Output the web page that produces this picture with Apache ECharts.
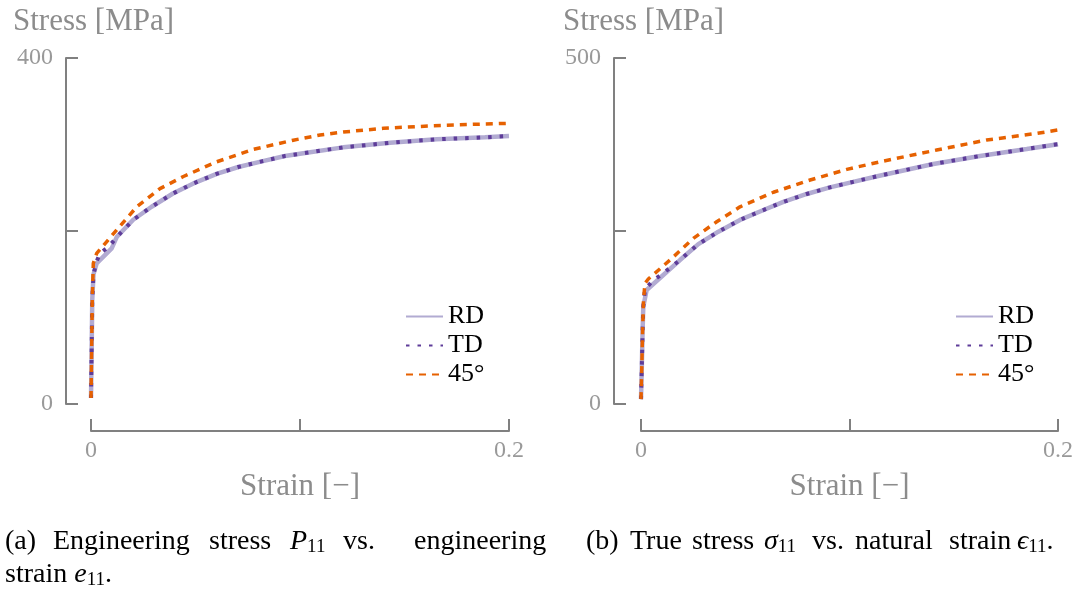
<!DOCTYPE html>
<html>
<head>
<meta charset="utf-8">
<script src="https://cdn.jsdelivr.net/npm/echarts@6/dist/echarts.min.js"></script>
<style>
  html, body { margin: 0; padding: 0; background: #fff; }
  #chart-container { width: 1081px; height: 590px; }
</style>
</head>
<body>
<div id="chart-container"></div>
<script>
// (a) engineering stress vs engineering strain
var engRdStrain = [0, 0.0003, 0.0006, 0.0012, 0.0027, 0.0099, 0.0123, 0.0202, 0.029, 0.0394, 0.049, 0.0601, 0.0705, 0.0817, 0.0928, 0.1032, 0.1207, 0.1431, 0.1654, 0.1885, 0.2];
var engRdStress = [7, 60, 120, 150, 162.6, 180, 193, 213, 228, 243.6, 255, 266, 274, 280.5, 286.7, 290.5, 296.7, 302, 306, 308.3, 309.8];
var engTdStrain = [0, 0.0003, 0.0006, 0.0012, 0.0027, 0.0043, 0.0088, 0.0123, 0.0202, 0.029, 0.0394, 0.049, 0.0601, 0.0705, 0.0817, 0.0928, 0.1032, 0.1207, 0.1431, 0.1654, 0.1885, 0.2];
var engTdStress = [7, 60, 120, 150, 165, 174, 182.6, 193, 213, 228, 243.6, 255, 266, 274, 280.5, 286.7, 290.5, 296.7, 302, 306, 308.3, 309.8];
var eng45Strain = [0, 0.0003, 0.0006, 0.0011, 0.0027, 0.0115, 0.0219, 0.033, 0.0442, 0.0601, 0.0777, 0.0968, 0.1096, 0.1207, 0.1399, 0.1638, 0.1829, 0.2];
var eng45Stress = [7, 60, 120, 162.6, 174, 199, 228, 249, 263, 280, 294.4, 305, 311, 314.4, 318.7, 321.7, 323.3, 324.5];

// (b) true stress vs natural strain
var trueRdStrain = [0, 0.0004, 0.0008, 0.0011, 0.0027, 0.0107, 0.0187, 0.0275, 0.0371, 0.0475, 0.0579, 0.0683, 0.0795, 0.0906, 0.1018, 0.1138, 0.1402, 0.1626, 0.185, 0.2];
var trueRdStress = [7, 55, 110, 140.6, 164.7, 186.4, 208, 231, 249, 266, 279.3, 292, 303.5, 313, 321, 329.5, 346.8, 358.4, 368.5, 375.5];
var trueTdStrain = [0, 0.0004, 0.0008, 0.0011, 0.0019, 0.0056, 0.0102, 0.0187, 0.0275, 0.0371, 0.0475, 0.0579, 0.0683, 0.0795, 0.0906, 0.1018, 0.1138, 0.1402, 0.1626, 0.185, 0.2];
var trueTdStress = [7, 55, 110, 140.6, 165.7, 178, 188, 208, 231, 249, 266, 279.3, 292, 303.5, 313, 321, 329.5, 346.8, 358.4, 368.5, 375.5];
var true45Strain = [0, 0.0004, 0.0008, 0.0012, 0.0019, 0.0035, 0.0139, 0.0251, 0.0363, 0.0475, 0.0635, 0.0811, 0.0987, 0.1146, 0.1418, 0.1658, 0.1898, 0.2];
var true45Stress = [7, 55, 110, 150, 174.4, 180.6, 208, 239.4, 263.4, 285, 306, 323.7, 339, 350, 367, 381.5, 391, 396];

var seriesNames = ['RD', 'TD', '45°'];
var xTicks = [0, 0.2];            // labelled strain ticks
var yMaxA = 400, yMaxB = 500;      // stress axis limits

var FONT = "'Liberation Serif', 'DejaVu Serif', serif";
var GREY_LINE = '#808080';
var GREY_TEXT = '#999999';
var colors = ['#b2abd2', '#5e3c99', '#e66101'];

function pairs(xs, ys) {
  return xs.map(function (x, i) { return [x, ys[i]]; });
}

function xAxisFor(gridIndex) {
  return {
    type: 'value', gridIndex: gridIndex, min: 0, max: 0.2, interval: 0.1,
    offset: 27,
    name: 'Strain [\u2212]', nameLocation: 'middle', nameGap: 40,
    nameTextStyle: { fontFamily: FONT, fontSize: 31, color: '#8c8c8c' },
    axisLine: { onZero: false, lineStyle: { color: GREY_LINE, width: 2 } },
    axisTick: { inside: true, length: 12, lineStyle: { color: GREY_LINE, width: 2 } },
    axisLabel: {
      margin: 8, fontFamily: FONT, fontSize: 24, color: GREY_TEXT,
      formatter: function (v) {
        for (var i = 0; i < xTicks.length; i++) {
          if (Math.abs(v - xTicks[i]) < 1e-9) return String(xTicks[i]);
        }
        return '';
      }
    },
    splitLine: { show: false }
  };
}

function yAxisFor(gridIndex, max, offset) {
  return {
    type: 'value', gridIndex: gridIndex, min: 0, max: max, interval: max / 2,
    offset: offset,
    axisLine: { show: true, onZero: false, lineStyle: { color: GREY_LINE, width: 2 } },
    axisTick: { show: true, inside: true, length: 12, lineStyle: { color: GREY_LINE, width: 2 } },
    axisLabel: {
      margin: 13, fontFamily: FONT, fontSize: 24, color: GREY_TEXT,
      formatter: function (v) { return (v === 0 || v === max) ? String(v) : ''; }
    },
    splitLine: { show: false }
  };
}

function lineSeries(name, idx, data, gridIndex) {
  var styles = [
    { color: colors[0], width: 4.5, type: 'solid' },
    { color: colors[1], width: 4, type: [3.5, 8] },
    { color: colors[2], width: 3.5, type: [7, 6] }
  ];
  return {
    name: name, type: 'line', xAxisIndex: gridIndex, yAxisIndex: gridIndex,
    data: data, showSymbol: false, symbol: 'none', smooth: false,
    color: colors[idx], lineStyle: styles[idx], z: 2 + idx, animation: false
  };
}

function legendFor(left) {
  return {
    left: left, top: 302, orient: 'vertical', padding: 0, itemGap: 0,
    itemWidth: 37, itemHeight: 14, data: seriesNames,
    itemStyle: { opacity: 0 },
    textStyle: { fontFamily: FONT, fontSize: 26, color: '#000', lineHeight: 29 }
  };
}

var rich = {
  i: { fontFamily: FONT, fontSize: 28, fontStyle: 'italic', color: '#000' },
  sub: { fontFamily: FONT, fontSize: 19, color: '#000', padding: [10, 0, 0, 0] },
  n: { fontFamily: FONT, fontSize: 28, color: '#000' }
};
// caption words with their left edges (justified LaTeX subcaptions)
var captionA1 = [
  ['(a)', 5], ['Engineering', 53], ['stress', 209], ['{i|P}{sub|11}', 290], ['vs.', 343], ['engineering', 414]
];
var captionA2 = [['{n|strain }{i|e}{sub|11}{n|.}', 5]];
var captionB = [
  ['(b)', 586], ['True', 630], ['stress', 692], ['{i|\u03c3}{sub|11}', 764], ['vs.', 812],
  ['natural', 855], ['strain', 949], ['{i|\u03f5}{sub|11}{n|.}', 1017]
];

function captionLine(words, top) {
  return words.map(function (w) {
    return {
      type: 'text', left: w[1], top: top,
      style: { text: w[0], font: '28px ' + FONT, fill: '#000', rich: rich }
    };
  });
}
var graphics = [].concat(captionLine(captionA1, 528), captionLine(captionA2, 561), captionLine(captionB, 528));

var dom = document.getElementById('chart-container');
var myChart = echarts.init(dom, null, { renderer: 'canvas' });

var option = {
  animation: false,
  backgroundColor: '#fff',
  title: [
    { text: 'Stress [MPa]', left: 13, top: 6, padding: 0,
      textStyle: { fontFamily: FONT, fontSize: 31, fontWeight: 'normal', color: '#8c8c8c' } },
    { text: 'Stress [MPa]', left: 563, top: 6, padding: 0,
      textStyle: { fontFamily: FONT, fontSize: 31, fontWeight: 'normal', color: '#8c8c8c' } }
  ],
  grid: [
    { left: 91, top: 58, width: 418, height: 346 },
    { left: 641, top: 58, width: 417, height: 346 }
  ],
  xAxis: [xAxisFor(0), xAxisFor(1)],
  yAxis: [yAxisFor(0, yMaxA, 25), yAxisFor(1, yMaxB, 27)],
  legend: [legendFor(405), legendFor(955)],
  graphic: graphics,
  series: [
    lineSeries('RD', 0, pairs(engRdStrain, engRdStress), 0),
    lineSeries('TD', 1, pairs(engTdStrain, engTdStress), 0),
    lineSeries('45°', 2, pairs(eng45Strain, eng45Stress), 0),
    lineSeries('RD', 0, pairs(trueRdStrain, trueRdStress), 1),
    lineSeries('TD', 1, pairs(trueTdStrain, trueTdStress), 1),
    lineSeries('45°', 2, pairs(true45Strain, true45Stress), 1)
  ]
};

myChart.setOption(option);
window.addEventListener('resize', myChart.resize);
</script>
</body>
</html>
